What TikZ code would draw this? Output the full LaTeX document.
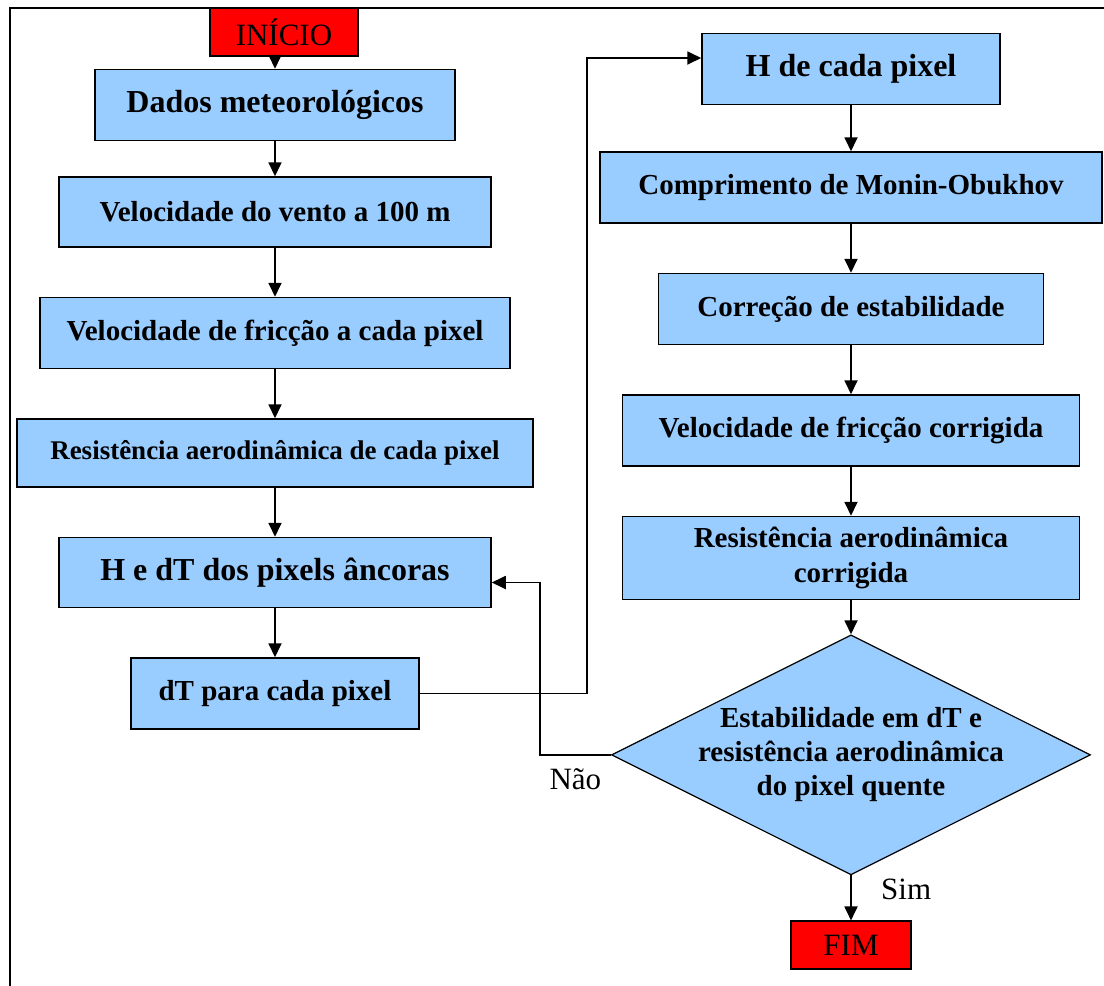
\documentclass[tikz,border=0pt]{standalone}
\usepackage{fontspec}
\setmainfont{Liberation Serif}
\usetikzlibrary{positioning, shapes.geometric, arrows.meta}
\definecolor{azul}{HTML}{99CCFF}
\tikzset{
	->, % all connectors are directed
	>={Triangle[length=14pt,width=13pt]}, % filled triangle heads
	node distance=49pt, % gap between two boxes
	passo/.style={draw, line width=1.5pt, fill=azul, minimum height=71pt, inner sep=0pt, align=center, font=\bfseries\fontsize{29}{35}\selectfont},
	grande/.style={font=\bfseries\fontsize{32}{36}\selectfont},
	terminal/.style={draw, line width=1.5pt, fill=red, minimum height=48pt, font=\fontsize{31}{34}\selectfont},
	decisao/.style={diamond, aspect=2, draw, line width=1.2pt, fill=azul, inner sep=-8pt, minimum width=479pt, minimum height=240pt, align=center, font=\bfseries\fontsize{29}{34}\selectfont},
	rotulo/.style={font=\fontsize{31}{34}\selectfont},
}
\begin{document}
\begin{tikzpicture}[x=1pt, y=-1pt, line width=1.8pt]
	\useasboundingbox (0,0) rectangle (1104,986);
	\draw[-, line width=2pt] (1104,8) -| (10,986);
	% left column
	\node[passo, grande, minimum width=360pt] (dados) at (275,105) {Dados meteorológicos};
	\node[terminal, minimum width=148pt] (inicio) at (284,32) {INÍCIO};
	\node[passo, minimum width=432pt, minimum height=70pt, below=35pt of dados] (vento) {Velocidade do vento a 100 m};
	\node[passo, minimum width=470pt, below=of vento] (friccao) {Velocidade de fricção a cada pixel};
	\node[passo, minimum width=516pt, minimum height=68pt, below=of friccao, font=\bfseries\fontsize{27}{32}\selectfont] (resist) {Resistência aerodinâmica de cada pixel};
	\node[passo, grande, minimum width=432pt, minimum height=70pt, below=of resist] (hdt) {H e dT dos pixels âncoras};
	\node[passo, minimum width=288pt, below=of hdt] (dt) {dT para cada pixel};
	% right column
	\node[passo, grande, minimum width=298pt] (hpix) at (851,69) {H de cada pixel};
	\node[passo, minimum width=502pt, below=46pt of hpix] (monin) {Comprimento de Monin-Obukhov};
	\node[passo, minimum width=385pt, below=of monin] (correcao) {Correção de estabilidade};
	\node[passo, minimum width=457pt, below=of correcao] (ucorr) {Velocidade de fricção corrigida};
	\node[passo, minimum width=457pt, minimum height=83pt, below=of ucorr] (rcorr) {Resistência aerodinâmica\\corrigida};
	\node[decisao, below=34pt of rcorr] (teste) {Estabilidade em dT e\\resistência aerodinâmica\\do pixel quente};
	\node[terminal, minimum width=120pt, below=45pt of teste] (fim) {FIM};
	% connectors
	\draw (dados.north |- inicio.south) -- (dados.north);
	\foreach \a/\b in {dados/vento, vento/friccao, friccao/resist, resist/hdt, hdt/dt, hpix/monin, monin/correcao, correcao/ucorr, ucorr/rcorr, rcorr/teste}
		\draw (\a) -- (\b);
	\draw (dt.east) -- ++(167pt,0) |- ([yshift=11pt]hpix.west);
	\draw (teste.west) -- node[below=10pt, rotulo] {Não} ++(-71pt,0) |- ([yshift=-10pt]hdt.east);
	\draw (teste) -- node[right=26pt, yshift=9pt, rotulo] {Sim} (fim);
\end{tikzpicture}
\end{document}
